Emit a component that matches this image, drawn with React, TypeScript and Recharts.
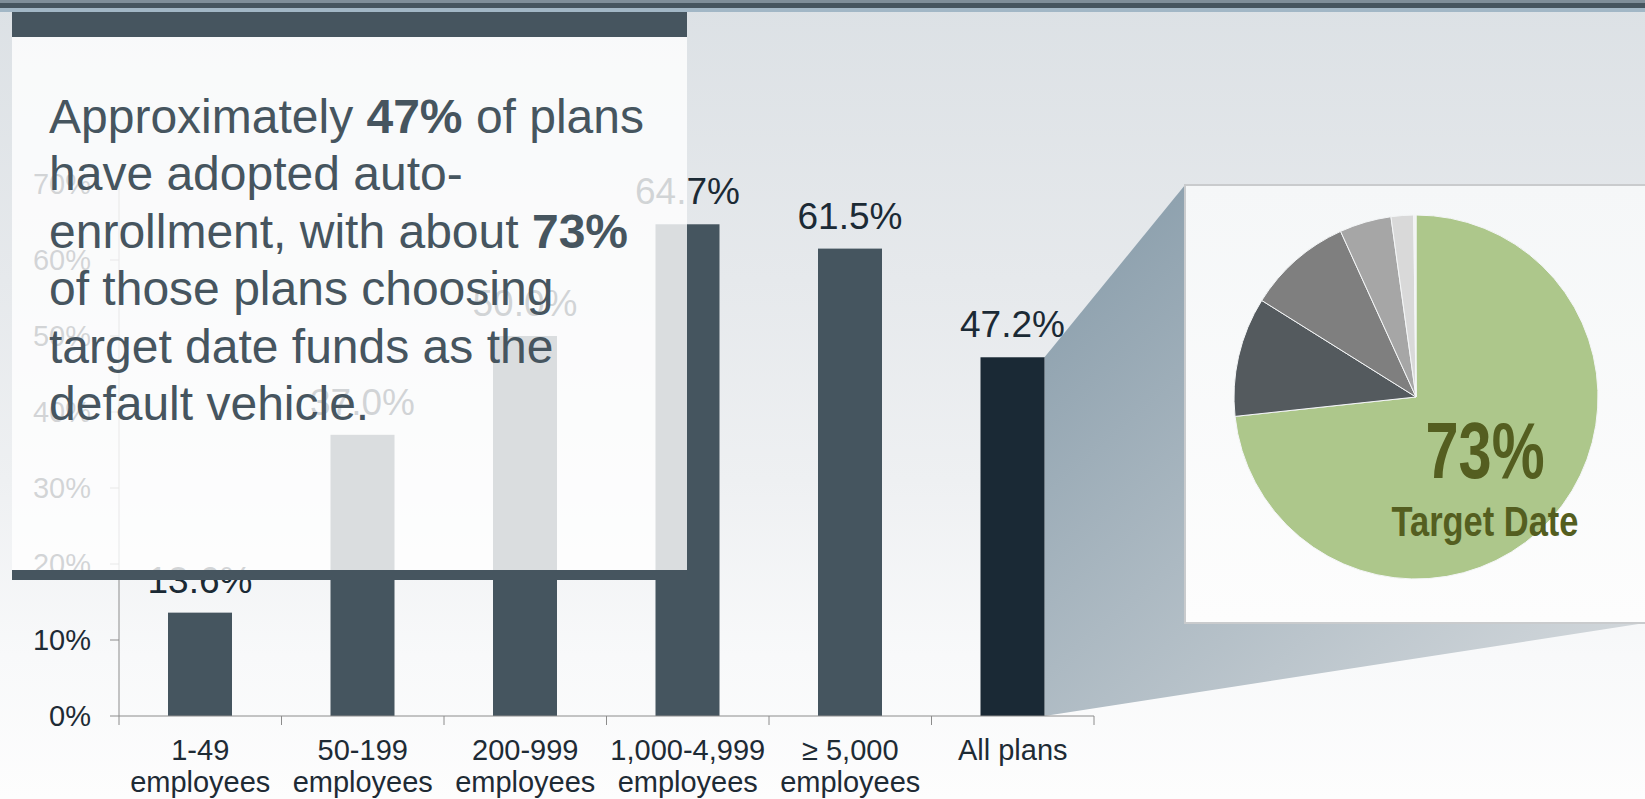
import React from 'react';
import { BarChart, Bar, XAxis, YAxis, LabelList, PieChart, Pie, Cell } from 'recharts';

const categories = ['1-49', '50-199', '200-999', '1,000-4,999', '≥ 5,000', 'All plans'];
const categorySub = ['employees', 'employees', 'employees', 'employees', 'employees', ''];
const adoptionPct = [13.6, 37.0, 50.0, 64.7, 61.5, 47.2];
const yTicks = [0, 10, 20, 30, 40, 50, 60, 70];

const fundNames = ['Target Date', 'Balanced', 'Stable Value', 'Money Market', 'Managed Account', 'Other'];
const fundShare = [73.3, 10.6, 9.3, 4.6, 2.0, 0.2];
const fundColors = ['#adc78b', '#545a5e', '#7f7f7f', '#a6a6a6', '#d9d9d9', '#f2f2f2'];

const W = 1645;
const H = 799;
const FONT = '"Liberation Sans", Arial, sans-serif';
const PLOT_LEFT = 119;
const PLOT_RIGHT = 1094;
const BAND = (PLOT_RIGHT - PLOT_LEFT) / categories.length;
const PIE_BOX = { left: 1185, top: 185, bottom: 621 };

const barData = categories.map((name, i) => ({ name, sub: categorySub[i], value: adoptionPct[i] }));
const pieData = fundNames.map((name, i) => ({ name, value: fundShare[i] }));

// labels sit at the band centre, tick marks on the band edges
const XTick = (props: any) => {
  const { x, y, payload, index } = props;
  const axisY = y - 11;
  const sub = categorySub[index];
  const last = index === categories.length - 1;
  return (
    <g>
      <line x1={x - BAND / 2} x2={x - BAND / 2} y1={axisY} y2={axisY + 9} stroke="#8c8c8c" />
      {last && <line x1={x + BAND / 2} x2={x + BAND / 2} y1={axisY} y2={axisY + 9} stroke="#8c8c8c" />}
      <text x={x} y={y} textAnchor="middle" fontSize={29} fill="#1e2b35" fontFamily={FONT}>
        <tspan x={x} dy={33}>{payload.value}</tspan>
        {sub && <tspan x={x} dy={32}>{sub}</tspan>}
      </text>
    </g>
  );
};

// last bar also draws the zoom wedge out to the pie box
const BarShape = (props: any) => {
  const { x, y, width, height, index } = props;
  const last = index === categories.length - 1;
  if (!last) return <rect x={x} y={y} width={width} height={height} fill="#45555f" />;
  const rx = x + width;
  return (
    <g>
      <defs>
        <linearGradient id="zoomGrad" gradientUnits="userSpaceOnUse" x1={PIE_BOX.left} y1={PIE_BOX.top} x2={W} y2={y + height}>
          <stop offset="0" stopColor="#8fa2af" />
          <stop offset="1" stopColor="#d8dcdf" />
        </linearGradient>
      </defs>
      <polygon
        points={`${rx},${y} ${PIE_BOX.left},${PIE_BOX.top} ${W},${PIE_BOX.top} ${W},${PIE_BOX.bottom + 2} ${rx},${y + height}`}
        fill="url(#zoomGrad)"
      />
      <rect x={x} y={y} width={width} height={height} fill="#1a2935" />
    </g>
  );
};

export default function App() {
  return (
    <div
      style={{
        position: 'absolute',
        left: 0,
        top: 0,
        width: W,
        height: H,
        overflow: 'hidden',
        fontFamily: FONT,
        background: 'linear-gradient(to bottom, #dce1e5 0%, #e6e9ec 35%, #eef0f2 60%, #f8f9fa 82%, #fdfdfd 100%)',
      }}
    >
      {/* slide top stripe */}
      <div style={{ position: 'absolute', left: 0, top: 0, width: W, height: 3, background: '#7f8e99' }} />
      <div style={{ position: 'absolute', left: 0, top: 3, width: W, height: 5, background: '#46555f' }} />
      <div style={{ position: 'absolute', left: 0, top: 8, width: W, height: 4, background: '#a2b7c6' }} />

      <div style={{ position: 'absolute', left: 0, top: 0 }}>
        <BarChart width={W} height={H} data={barData} margin={{ top: 184, right: W - PLOT_RIGHT, bottom: 0, left: 0 }}>
          <XAxis
            dataKey="name"
            height={83}
            interval={0}
            tickLine={false}
            tickSize={9}
            tickMargin={2}
            axisLine={{ stroke: '#8c8c8c' }}
            tick={<XTick />}
          />
          <YAxis
            width={PLOT_LEFT}
            domain={[0, 70]}
            ticks={yTicks}
            interval={0}
            tickSize={9}
            tickMargin={19}
            axisLine={{ stroke: '#8c8c8c' }}
            tickLine={{ stroke: '#8c8c8c' }}
            tick={{ fontSize: 29, fill: '#1e2b35', fontFamily: FONT }}
            tickFormatter={(v: number) => `${v}%`}
          />
          <Bar dataKey="value" barSize={64} shape={<BarShape />} isAnimationActive={false}>
            <LabelList
              dataKey="value"
              position="top"
              offset={20}
              fontSize={37}
              fill="#1b2a35"
              fontFamily={FONT}
              formatter={(v: any) => `${Number(v).toFixed(1)}%`}
            />
          </Bar>
        </BarChart>
      </div>

      {/* callout box */}
      <div
        style={{
          position: 'absolute',
          left: 12,
          top: 12,
          width: 675,
          height: 568,
          background: 'rgba(255,255,255,0.8)',
        }}
      >
        <div style={{ position: 'absolute', left: 0, top: 0, width: 675, height: 25, background: '#46555f' }} />
        <div style={{ position: 'absolute', left: 0, top: 558, width: 675, height: 10, background: '#46555f' }} />
        <div
          style={{
            position: 'absolute',
            left: 37,
            top: 76,
            fontSize: 48,
            lineHeight: '57.4px',
            color: '#46555f',
            whiteSpace: 'nowrap',
          }}
        >
          Approximately <b>47%</b> of plans
          <br />
          have adopted auto-
          <br />
          enrollment, with about <b>73%</b>
          <br />
          of those plans choosing
          <br />
          target date funds as the
          <br />
          default vehicle.
        </div>
      </div>

      {/* pie box */}
      <div
        style={{
          position: 'absolute',
          left: PIE_BOX.left - 1,
          top: PIE_BOX.top - 1,
          width: 480,
          height: PIE_BOX.bottom - PIE_BOX.top,
          border: '2px solid #c9cbcd',
          background: 'linear-gradient(to bottom, #f5f7f8 0%, #fdfdfd 100%)',
        }}
      />
      <div style={{ position: 'absolute', left: PIE_BOX.left, top: PIE_BOX.top }}>
        <PieChart width={460} height={436} margin={{ top: 0, right: 0, bottom: 0, left: 0 }}>
          <Pie
            data={pieData}
            dataKey="value"
            nameKey="name"
            cx={231}
            cy={212}
            outerRadius={182}
            startAngle={90}
            endAngle={-270}
            stroke="#f4f6f7"
            strokeWidth={1}
            isAnimationActive={false}
          >
            {pieData.map((d, i) => (
              <Cell key={d.name} fill={fundColors[i]} />
            ))}
          </Pie>
        </PieChart>
      </div>
      <svg
        style={{ position: 'absolute', left: PIE_BOX.left, top: PIE_BOX.top }}
        width={460}
        height={436}
      >
        <text x={300} y={293} textAnchor="middle" fontSize={79} fontWeight="bold" fill="#545e20" fontFamily={FONT} textLength={119} lengthAdjust="spacingAndGlyphs">
          73%
        </text>
        <text x={300} y={351} textAnchor="middle" fontSize={42} fontWeight="bold" fill="#545e20" fontFamily={FONT} textLength={187} lengthAdjust="spacingAndGlyphs">
          Target Date
        </text>
      </svg>
    </div>
  );
}
